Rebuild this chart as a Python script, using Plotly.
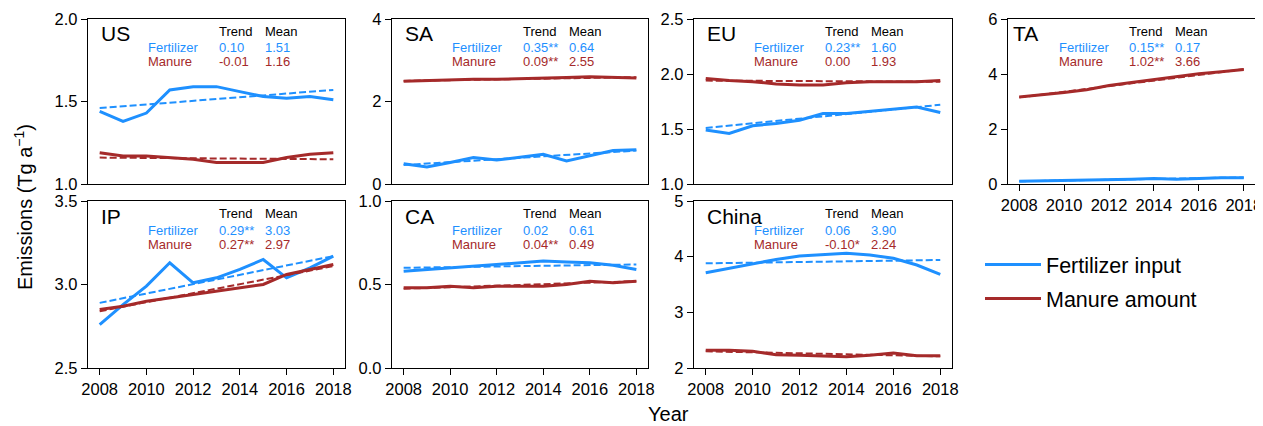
import plotly.graph_objects as go

OFF = 8  # page body margin; figure starts 8px in from the window corner
W, H = 1263 - OFF, 426 - OFF

years = list(range(2008, 2019))
regions = ["US", "SA", "EU", "TA", "IP", "CA", "China"]

fert_US = [1.44, 1.38, 1.43, 1.57, 1.59, 1.59, 1.56, 1.53, 1.52, 1.53, 1.51]
man_US = [1.19, 1.17, 1.17, 1.16, 1.15, 1.13, 1.13, 1.13, 1.16, 1.18, 1.19]
fert_SA = [0.49, 0.41, 0.52, 0.64, 0.58, 0.65, 0.72, 0.56, 0.69, 0.81, 0.83]
man_SA = [2.49, 2.51, 2.52, 2.54, 2.54, 2.55, 2.56, 2.58, 2.60, 2.58, 2.57]
fert_EU = [1.49, 1.46, 1.53, 1.55, 1.58, 1.64, 1.64, 1.66, 1.68, 1.70, 1.65]
man_EU = [1.96, 1.94, 1.93, 1.91, 1.90, 1.90, 1.92, 1.93, 1.93, 1.93, 1.94]
fert_TA = [0.10, 0.11, 0.14, 0.13, 0.15, 0.17, 0.20, 0.17, 0.20, 0.23, 0.23]
man_TA = [3.16, 3.24, 3.33, 3.43, 3.58, 3.69, 3.79, 3.89, 4.01, 4.08, 4.16]
fert_IP = [2.76, 2.88, 2.99, 3.13, 3.01, 3.04, 3.09, 3.15, 3.04, 3.10, 3.17]
man_IP = [2.85, 2.87, 2.90, 2.92, 2.94, 2.96, 2.98, 3.00, 3.06, 3.09, 3.12]
fert_CA = [0.58, 0.59, 0.60, 0.61, 0.62, 0.63, 0.64, 0.635, 0.63, 0.615, 0.59]
man_CA = [0.48, 0.48, 0.49, 0.48, 0.49, 0.49, 0.49, 0.50, 0.52, 0.51, 0.52]
fert_CN = [3.71, 3.79, 3.87, 3.95, 4.01, 4.04, 4.06, 4.03, 3.97, 3.85, 3.68]
man_CN = [2.32, 2.32, 2.30, 2.24, 2.23, 2.22, 2.20, 2.23, 2.27, 2.22, 2.22]

# trend-line end values (2008, 2018)
trend_years = [2008, 2018]
fert_trend_US = [1.46, 1.57]
man_trend_US = [1.16, 1.15]
fert_trend_SA = [0.46, 0.81]
man_trend_SA = [2.50, 2.59]
fert_trend_EU = [1.51, 1.72]
man_trend_EU = [1.94, 1.93]
fert_trend_TA = [0.10, 0.24]
man_trend_TA = [3.15, 4.17]
fert_trend_IP = [2.89, 3.17]
man_trend_IP = [2.84, 3.11]
fert_trend_CA = [0.60, 0.62]
man_trend_CA = [0.475, 0.52]
fert_trend_CN = [3.88, 3.94]
man_trend_CN = [2.30, 2.21]

fert_trend_txt = ["0.10", "0.35**", "0.23**", "0.15**", "0.29**", "0.02", "0.06"]
man_trend_txt = ["-0.01", "0.09**", "0.00", "1.02**", "0.27**", "0.04**", "-0.10*"]
fert_mean_txt = ["1.51", "0.64", "1.60", "0.17", "3.03", "0.61", "3.90"]
man_mean_txt = ["1.16", "2.55", "1.93", "3.66", "2.97", "0.49", "2.24"]

y_ranges = [[1.0, 2.0], [0, 4], [1.0, 2.5], [0, 6], [2.5, 3.5], [0, 1.0], [2, 5]]
y_ticks = [[1.0, 1.5, 2.0], [0, 2, 4], [1.0, 1.5, 2.0, 2.5], [0, 2, 4, 6],
           [2.5, 3.0, 3.5], [0.0, 0.5, 1.0], [2, 3, 4, 5]]
y_ticktext = [["1.0", "1.5", "2.0"], ["0", "2", "4"], ["1.0", "1.5", "2.0", "2.5"],
              ["0", "2", "4", "6"], ["2.5", "3.0", "3.5"], ["0.0", "0.5", "1.0"],
              ["2", "3", "4", "5"]]
x_ticks = [2008, 2010, 2012, 2014, 2016, 2018]

fert_all = [fert_US, fert_SA, fert_EU, fert_TA, fert_IP, fert_CA, fert_CN]
man_all = [man_US, man_SA, man_EU, man_TA, man_IP, man_CA, man_CN]
fert_tr_all = [fert_trend_US, fert_trend_SA, fert_trend_EU, fert_trend_TA,
               fert_trend_IP, fert_trend_CA, fert_trend_CN]
man_tr_all = [man_trend_US, man_trend_SA, man_trend_EU, man_trend_TA,
              man_trend_IP, man_trend_CA, man_trend_CN]

BLUE = "#1E90FF"
RED = "#A52A2A"
FONT = "Liberation Sans, Arial, sans-serif"


def px_x(X):
    """window x pixel -> paper fraction"""
    return (X - OFF) / W


def px_y(Y):
    """window y pixel -> paper fraction"""
    return 1 - (Y - OFF) / H


# panel boxes in window pixels: (left, right), (top, bottom)
cols = [(88, 345), (392, 648), (694, 952), (1008, 1255)]
rows = [(19, 184), (201, 368)]
panel_pos = [(0, 0), (0, 1), (0, 2), (0, 3), (1, 0), (1, 1), (1, 2)]
# text offsets (px from panel left): title, row label, trend, mean
offsets = [(11, 58, 129, 175)] * 3 + [(3, 49, 119, 165)] + [(11, 58, 129, 175)] * 3

fig = go.Figure()
layout = dict(
    template="none",
    width=W, height=H, margin=dict(l=0, r=0, t=0, b=0, pad=0, autoexpand=False),
    paper_bgcolor="white", plot_bgcolor="white",
    font=dict(family=FONT, color="black"),
    showlegend=True,
    legend=dict(x=px_x(980), y=px_y(244), xanchor="left", yanchor="top",
                font=dict(size=21.5, family=FONT), bgcolor="rgba(0,0,0,0)",
                itemwidth=56, tracegroupgap=3, borderwidth=0),
)
annotations = []

for i, reg in enumerate(regions):
    r, c = panel_pos[i]
    x0, x1 = cols[c]
    t0, b0 = rows[r]
    sfx = "" if i == 0 else str(i + 1)
    xa, ya = "x" + sfx, "y" + sfx
    show_x = (r == 1) or (c == 3)
    layout["xaxis" + sfx] = dict(
        domain=[px_x(x0), px_x(x1)], anchor=ya, range=[2007.5, 2018.5],
        tickvals=x_ticks if show_x else [], showticklabels=show_x,
        ticks="outside" if show_x else "", ticklen=6, tickwidth=1.3, tickcolor="black",
        showline=True, linecolor="black", linewidth=1.3, mirror=True,
        showgrid=False, zeroline=False, tickfont=dict(size=16.5, family=FONT),
        automargin=False, ticklabeloverflow="allow",
    )
    layout["yaxis" + sfx] = dict(
        domain=[px_y(b0), px_y(t0)], anchor=xa, range=y_ranges[i],
        tickvals=y_ticks[i], ticktext=y_ticktext[i],
        ticks="outside", ticklen=6, tickwidth=1.3, tickcolor="black",
        showline=True, linecolor="black", linewidth=1.3, mirror=True,
        showgrid=False, zeroline=False, tickfont=dict(size=16.5, family=FONT),
        automargin=False, ticklabeloverflow="allow",
    )
    fig.add_trace(go.Scatter(x=years, y=fert_all[i], mode="lines", xaxis=xa, yaxis=ya,
                             line=dict(color=BLUE, width=3), name="Fertilizer input",
                             legendgroup="f", showlegend=(i == 0)))
    fig.add_trace(go.Scatter(x=years, y=man_all[i], mode="lines", xaxis=xa, yaxis=ya,
                             line=dict(color=RED, width=3), name="Manure amount",
                             legendgroup="m", showlegend=(i == 0)))
    fig.add_trace(go.Scatter(x=trend_years, y=fert_tr_all[i], mode="lines", xaxis=xa, yaxis=ya,
                             line=dict(color=BLUE, width=2, dash="7px,3px"),
                             showlegend=False, hoverinfo="skip"))
    fig.add_trace(go.Scatter(x=trend_years, y=man_tr_all[i], mode="lines", xaxis=xa, yaxis=ya,
                             line=dict(color=RED, width=2, dash="7px,3px"),
                             showlegend=False, hoverinfo="skip"))

    w = x1 - x0
    h = b0 - t0
    o_t, o_l, o_tr, o_m = offsets[i]

    def fx(p):
        return p / w

    def fy(p):
        return 1 - p / h

    base = dict(xref=xa + " domain", yref=ya + " domain", showarrow=False,
                xanchor="left", yanchor="middle")
    annotations.append(dict(base, x=fx(o_t), y=fy(15), text=reg,
                            font=dict(size=21, color="black", family=FONT)))
    annotations.append(dict(base, x=fx(o_tr), y=fy(12.5), text="Trend",
                            font=dict(size=13, color="black", family=FONT)))
    annotations.append(dict(base, x=fx(o_m), y=fy(12.5), text="Mean",
                            font=dict(size=13, color="black", family=FONT)))
    annotations.append(dict(base, x=fx(o_l), y=fy(29), text="Fertilizer",
                            font=dict(size=13, color=BLUE, family=FONT)))
    annotations.append(dict(base, x=fx(o_l), y=fy(43), text="Manure",
                            font=dict(size=13, color=RED, family=FONT)))
    annotations.append(dict(base, x=fx(o_tr), y=fy(29), text=fert_trend_txt[i],
                            font=dict(size=13, color=BLUE, family=FONT)))
    annotations.append(dict(base, x=fx(o_tr), y=fy(43), text=man_trend_txt[i],
                            font=dict(size=13, color=RED, family=FONT)))
    annotations.append(dict(base, x=fx(o_m), y=fy(29), text=fert_mean_txt[i],
                            font=dict(size=13, color=BLUE, family=FONT)))
    annotations.append(dict(base, x=fx(o_m), y=fy(43), text=man_mean_txt[i],
                            font=dict(size=13, color=RED, family=FONT)))

annotations.append(dict(xref="paper", yref="paper", x=px_x(23), y=px_y(207),
                        text="Emissions (Tg a<sup>−1</sup>)", textangle=-90,
                        showarrow=False, xanchor="center", yanchor="middle",
                        font=dict(size=20, family=FONT, color="black")))
annotations.append(dict(xref="paper", yref="paper", x=px_x(668), y=px_y(414),
                        text="Year", showarrow=False, xanchor="center", yanchor="middle",
                        font=dict(size=20, family=FONT, color="black")))
layout["annotations"] = annotations
fig.update_layout(**layout)
fig.write_html("out.html")
